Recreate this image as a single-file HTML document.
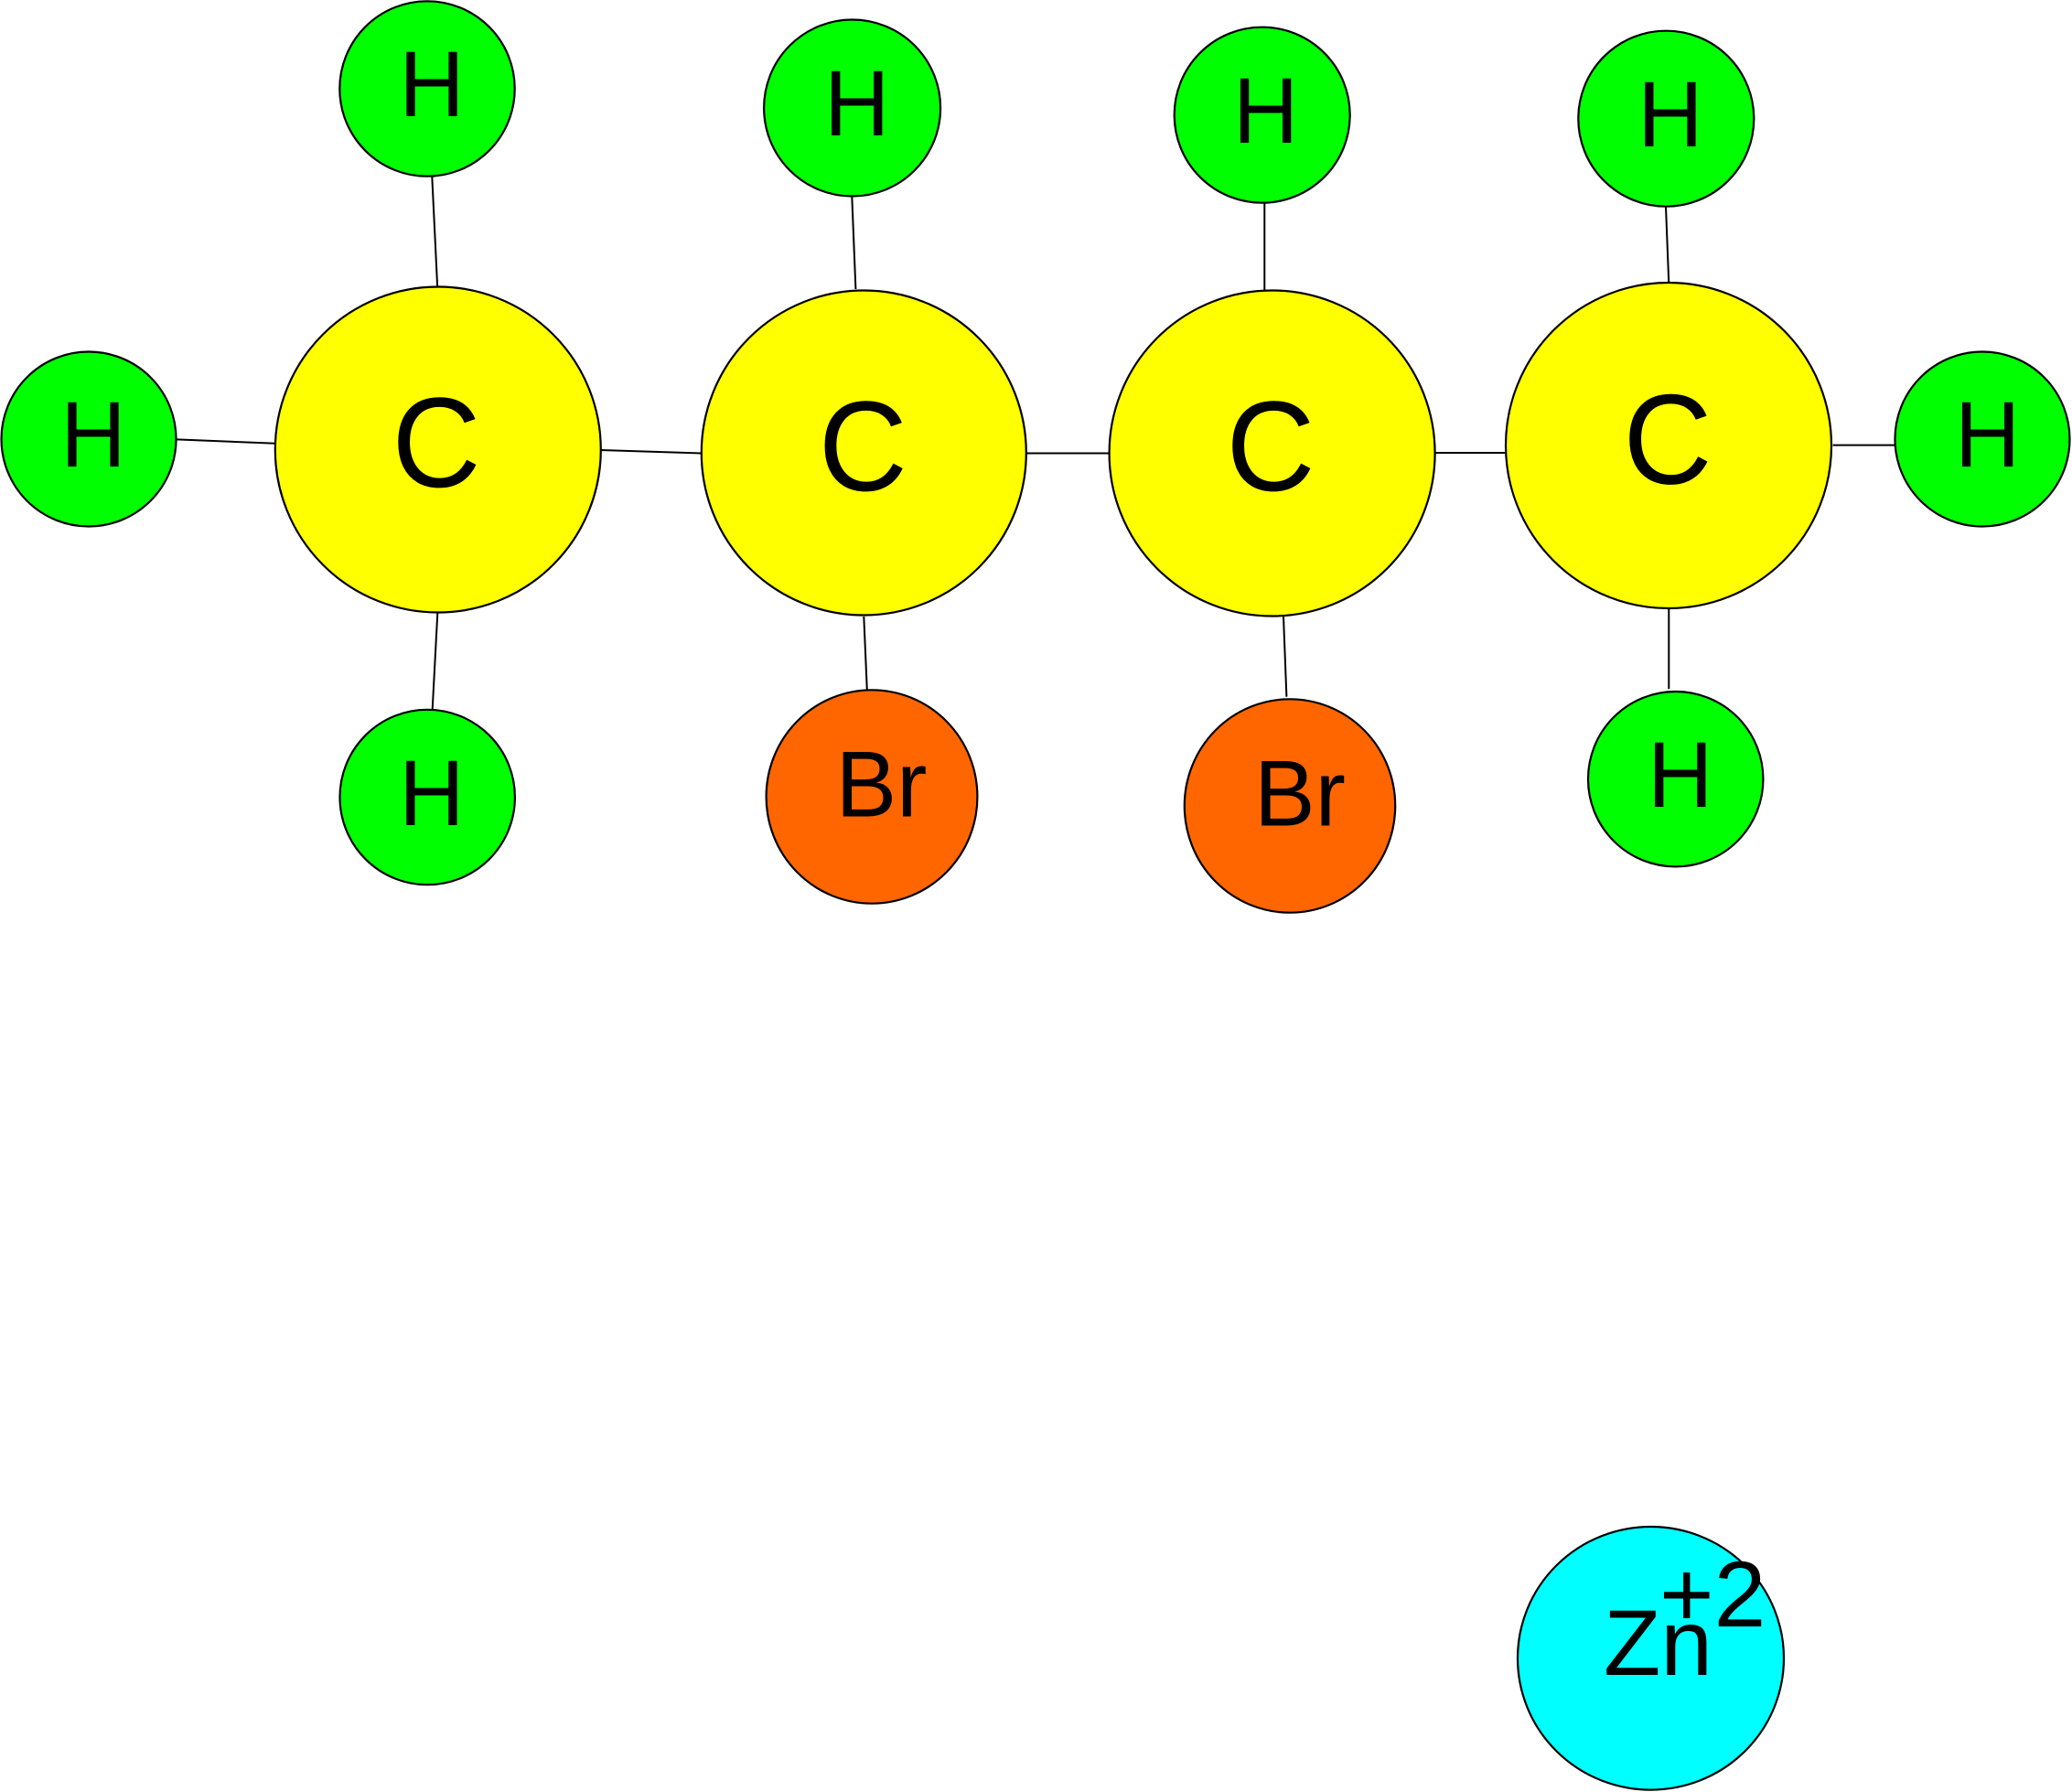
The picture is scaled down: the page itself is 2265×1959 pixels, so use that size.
<!DOCTYPE html>
<html>
<head>
<meta charset="utf-8">
<style>
  html, body { margin: 0; padding: 0; background: #ffffff; }
  svg { display: block; }
  text { font-family: "Liberation Sans", Arial, sans-serif; fill: #000; }
</style>
</head>
<body>
<svg width="2265" height="1959" viewBox="0 0 2265 1959" xmlns="http://www.w3.org/2000/svg">
  <rect width="2265" height="1959" fill="#ffffff"/>

  <!-- bonds -->
  <g stroke="#000" stroke-width="2" fill="none">
    <line x1="472.3" y1="192.9" x2="478.1" y2="312.5"/>
    <line x1="192.9" y1="480.4" x2="301.3" y2="484.8"/>
    <line x1="656.3" y1="492" x2="767" y2="495.5"/>
    <line x1="478.3" y1="670" x2="472.7" y2="775.7"/>
    <line x1="931.3" y1="214.7" x2="935.4" y2="316"/>
    <line x1="1121.6" y1="495.5" x2="1213.5" y2="495.5"/>
    <line x1="944.3" y1="674" x2="947.8" y2="754.3"/>
    <line x1="1382.3" y1="221.4" x2="1382.3" y2="317"/>
    <line x1="1403" y1="674" x2="1406.4" y2="761.7"/>
    <line x1="1567.7" y1="495" x2="1645.3" y2="495"/>
    <line x1="1821" y1="225.9" x2="1824.2" y2="308"/>
    <line x1="2003.6" y1="486.6" x2="2072" y2="486.6"/>
    <line x1="1824.3" y1="665" x2="1824.3" y2="753.3"/>
  </g>

  <!-- atoms -->
  <g stroke="#000" stroke-width="2.2">
    <circle cx="467" cy="97" r="95.7" fill="#00ff00"/>
    <circle cx="97" cy="480" r="95.5" fill="#00ff00"/>
    <circle cx="478.8" cy="491.5" r="178" fill="#ffff00"/>
    <circle cx="467.2" cy="871.5" r="95.7" fill="#00ff00"/>

    <circle cx="931.6" cy="118" r="96.5" fill="#00ff00"/>
    <circle cx="944.3" cy="495" r="177.5" fill="#ffff00"/>
    <ellipse cx="953" cy="871" rx="115.4" ry="116.7" fill="#ff6600"/>

    <circle cx="1379.7" cy="125.7" r="96" fill="#00ff00"/>
    <circle cx="1390.6" cy="495.5" r="178" fill="#ffff00"/>
    <ellipse cx="1410" cy="881" rx="115.2" ry="116.7" fill="#ff6600"/>

    <circle cx="1821.3" cy="129.7" r="96" fill="#00ff00"/>
    <circle cx="1824" cy="487" r="178" fill="#ffff00"/>
    <circle cx="2167" cy="480" r="95.5" fill="#00ff00"/>
    <circle cx="1831.7" cy="851.7" r="95.7" fill="#00ff00"/>

    <ellipse cx="1804.5" cy="1812.8" rx="145.5" ry="143.8" fill="#00ffff"/>
  </g>

  <!-- H labels -->
  <g font-size="102" text-anchor="middle">
    <text transform="translate(472,127) scale(0.97,1)">H</text>
    <text transform="translate(102,510) scale(0.97,1)">H</text>
    <text transform="translate(471.8,902) scale(0.97,1)">H</text>
    <text transform="translate(936.7,148) scale(0.97,1)">H</text>
    <text transform="translate(1383.6,156) scale(0.97,1)">H</text>
    <text transform="translate(1825.8,160) scale(0.97,1)">H</text>
    <text transform="translate(2172.6,510) scale(0.97,1)">H</text>
    <text transform="translate(1836.7,882) scale(0.97,1)">H</text>
  </g>
  <!-- C labels -->
  <g font-size="140" text-anchor="middle">
    <text transform="translate(477,532) scale(0.96,1)">C</text>
    <text transform="translate(943.3,536) scale(0.96,1)">C</text>
    <text transform="translate(1389,536) scale(0.96,1)">C</text>
    <text transform="translate(1823,528.5) scale(0.96,1)">C</text>
  </g>
  <!-- Br / Zn labels -->
  <g font-size="102">
    <text transform="translate(913.5,892.3) scale(0.98,1)">Br</text>
    <text transform="translate(1371,902.3) scale(0.98,1)">Br</text>
    <text x="1753" y="1831">Zn</text>
    <text x="1814" y="1778">+2</text>
  </g>
</svg>
</body>
</html>
